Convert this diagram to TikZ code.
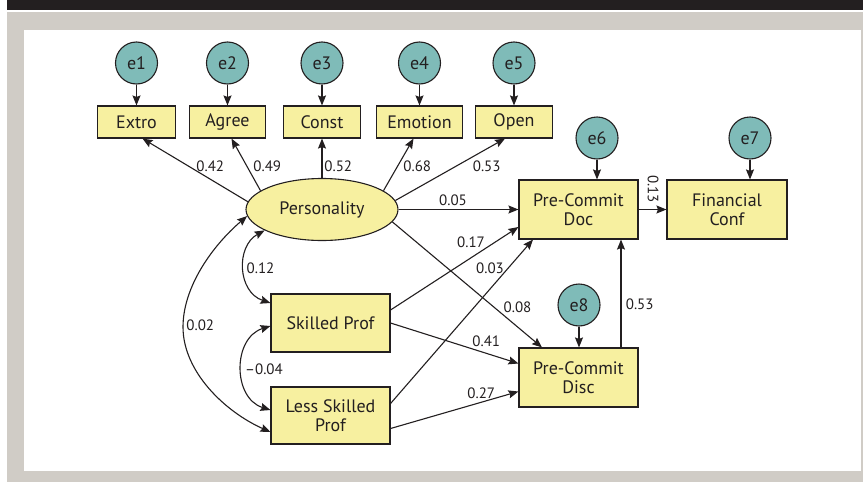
\documentclass[tikz,border=0pt]{standalone}
\usepackage{fontspec}
\setmainfont{PT Sans}
\usetikzlibrary{arrows.meta,shapes.geometric}
\definecolor{bggray}{RGB}{208,204,198}
\definecolor{bandblack}{RGB}{35,31,32}
\definecolor{boxyellow}{RGB}{247,240,160}
\definecolor{errteal}{RGB}{127,187,184}
\begin{document}
\begin{tikzpicture}[x=1pt,y=-1pt,
  box/.style={draw=bandblack, line width=1.1pt, fill=boxyellow, inner sep=0pt, align=center,
    font=\fontsize{18}{19}\selectfont, text=bandblack},
  err/.style={circle, draw=bandblack, line width=1.1pt, fill=errteal, minimum size=42pt, inner sep=0pt,
    font=\fontsize{18}{19}\selectfont, text=bandblack},
  lat/.style={ellipse, draw=bandblack, line width=1.1pt, fill=boxyellow, minimum width=152pt, minimum height=62pt,
    inner sep=0pt, font=\fontsize{18}{19}\selectfont, text=bandblack},
  lbl/.style={font=\fontsize{15}{16}\selectfont, text=bandblack, inner sep=0pt},
  arr/.style={draw=bandblack, line width=1.1pt, -{Stealth[length=10pt,width=8pt,inset=1.5pt]}},
  darr/.style={draw=bandblack, line width=1.1pt, {Stealth[length=10pt,width=8pt,inset=1.5pt]}-{Stealth[length=10pt,width=8pt,inset=1.5pt]}}
]
\useasboundingbox (0,0) rectangle (863,482);
\fill[white] (0,0) rectangle (863,482);
\fill[bggray] (7,12) rectangle (863,482);
\fill[bandblack] (7,0) rectangle (863,9.5);
\fill[white] (24,30) rectangle (860.5,471);

% error terms
\node[err] (e1) at (136.5,63) {e1};
\node[err] (e2) at (227.5,63) {e2};
\node[err] (e3) at (322,63) {e3};
\node[err] (e4) at (419.5,63) {e4};
\node[err] (e5) at (514,63) {e5};
\node[err] (e6) at (597,138) {e6};
\node[err] (e7) at (750,138) {e7};
\node[err] (e8) at (579,305) {e8};

% indicators
\node[box, minimum width=78pt, minimum height=32pt] (Extro) at (136.5,122) {Extro};
\node[box, minimum width=76pt, minimum height=32pt] (Agree) at (227.5,122) {Agree};
\node[box, minimum width=77pt, minimum height=32pt] (Const) at (322,122) {Const};
\node[box, minimum width=86pt, minimum height=32pt] (Emotion) at (419.5,122) {Emotion};
\node[box, minimum width=77pt, minimum height=32pt] (Open) at (514,122) {Open};

% main variables
\node[lat] (Pers) at (322,209.5) {Personality};
\node[box, minimum width=119pt, minimum height=59pt] (Doc) at (578.5,209.5) {Pre-Commit\\Doc};
\node[box, minimum width=120pt, minimum height=59pt] (FC) at (727,209.5) {Financial\\Conf};
\node[box, minimum width=119pt, minimum height=59pt] (Disc) at (578.5,377.5) {Pre-Commit\\Disc};
\node[box, minimum width=119pt, minimum height=58pt] (Skilled) at (330.5,323) {Skilled Prof};
\node[box, minimum width=119pt, minimum height=57pt] (Less) at (330.5,415.5) {Less Skilled\\Prof};
\coordinate (c02) at (183,327);

% error arrows
\draw[arr] (e1) -- (Extro);
\draw[arr] (e2) -- (Agree);
\draw[arr] (e3) -- (Const);
\draw[arr] (e4) -- (Emotion);
\draw[arr] (e5) -- (Open);
\draw[arr] (e6) -- (e6 |- Doc.north);
\draw[arr] (e7) -- (e7 |- FC.north);
\draw[arr] (e8) -- (e8 |- Disc.north);

% loadings
\draw[arr] (Pers.174) -- ([xshift=6pt]Extro.south);
\draw[arr] (Pers.163) -- ([xshift=4pt]Agree.south);
\draw[arr] (Pers.north) -- (Const.south);
\draw[arr] (Pers.17) -- ([xshift=-6pt]Emotion.south);
\draw[arr] (Pers.7) -- ([xshift=-9pt]Open.south);

% structural paths
\draw[arr] (Pers.east) -- (Doc.west);
\draw[arr] (Pers.-10) -- ([xshift=-36.5pt]Disc.north);
\draw[arr] ([yshift=13pt]Skilled.east) -- ([yshift=-17.5pt]Doc.west);
\draw[arr] (Skilled.east) -- ([yshift=14pt]Disc.west);
\draw[arr] ([yshift=12pt]Less.east) -- ([xshift=-45.5pt]Doc.south);
\draw[arr] ([yshift=-13pt]Less.east) -- ([yshift=-14pt]Disc.west);
\draw[arr] (Doc.east) -- (FC.west);
\draw[arr] ([xshift=42.5pt]Disc.north) -- ([xshift=42.5pt]Doc.south);

% covariances
\draw[darr] (Pers.200) .. controls +(-29,16) and +(-33,-11) .. ([yshift=20pt]Skilled.west);
\draw[darr] ([yshift=-3pt]Skilled.west) .. controls +(-38,12) and +(-38,-12) .. ([yshift=5.5pt]Less.west);
\draw[darr] (Pers.185) .. controls +(-35,30) and +(0,-40) .. (c02) .. controls +(0,45) and +(-45,-20) .. ([yshift=-16.5pt]Less.west);

% labels
\node[lbl] (l42) at (210.3,166.5) {0.42};
\node[lbl] (l49) at (267.3,166.5) {0.49};
\node[lbl] (l52) at (338.3,166.5) {0.52};
\node[lbl] (l68) at (417.3,166.5) {0.68};
\node[lbl] (l53a) at (486.7,166) {0.53};
\node[lbl] (l05) at (453,200) {0.05};
\node[lbl] (l17) at (471,242) {0.17};
\node[lbl] (l03) at (490,268.3) {0.03};
\node[lbl] (l08) at (517.5,307) {0.08};
\node[lbl] (l41) at (486.3,341.3) {0.41};
\node[lbl] (l27) at (481.3,393.3) {0.27};
\node[lbl] (l12) at (260.5,268.3) {0.12};
\node[lbl] (l02) at (200.3,325.3) {0.02};
\node[lbl] (l04) at (264,369) {–0.04};
\node[lbl] (l53b) at (639.7,304.3) {0.53};
\node[lbl, rotate=-90] (l13) at (653,189) {0.13};
\end{tikzpicture}
\end{document}
